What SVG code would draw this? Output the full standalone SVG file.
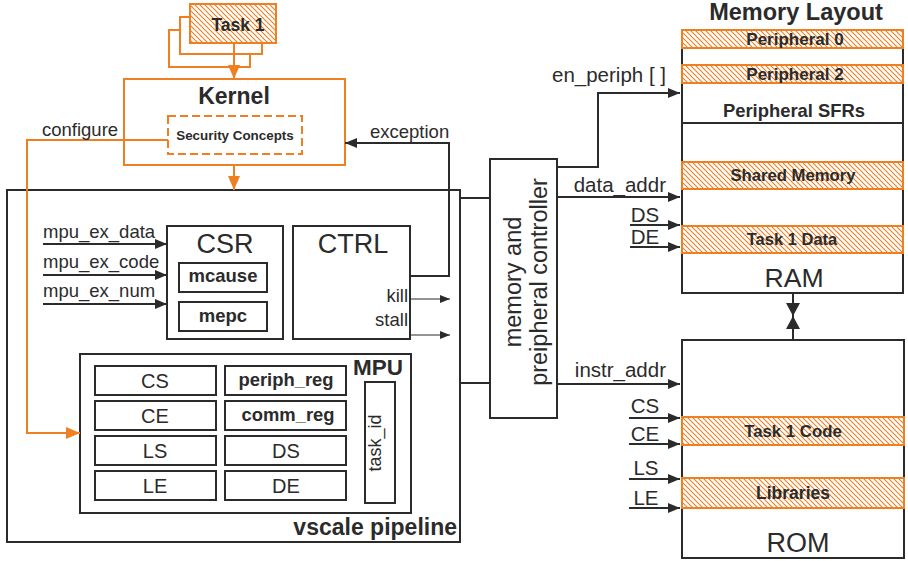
<svg xmlns="http://www.w3.org/2000/svg" width="908" height="561" viewBox="0 0 908 561">
<defs>
<pattern id="hatch" width="5" height="5" patternUnits="userSpaceOnUse">
<rect width="5" height="5" fill="#fff"/>
<path d="M-1,-1 L6,6 M-1,4 L1,6 M4,-1 L6,1" stroke="#EE7F22" stroke-width="1.1"/>
</pattern>
<marker id="ah" viewBox="0 0 12 10" refX="12" refY="5" markerWidth="12" markerHeight="10" markerUnits="userSpaceOnUse" orient="auto">
<path d="M0,0 L12,5 L0,10 z" fill="#2b2b2b"/>
</marker>
<marker id="ahs" viewBox="0 0 10 8" refX="10" refY="4" markerWidth="10" markerHeight="8" markerUnits="userSpaceOnUse" orient="auto">
<path d="M0,0 L10,4 L0,8 z" fill="#2b2b2b"/>
</marker>
<marker id="aho" viewBox="0 0 14 12" refX="14" refY="6" markerWidth="14" markerHeight="12" markerUnits="userSpaceOnUse" orient="auto">
<path d="M0,0 L14,6 L0,12 z" fill="#EE7F22"/>
</marker>
</defs>
<style>
text{font-family:"Liberation Sans",Arial,sans-serif;fill:#2b2b2b}
.b{font-weight:bold}
.box{fill:#fff;stroke:#2b2b2b;stroke-width:2}
.obox{fill:#fff;stroke:#EE7F22;stroke-width:2}
.band{fill:url(#hatch);stroke:#EE7F22;stroke-width:2}
.w{fill:none;stroke:#2b2b2b;stroke-width:2}
.ow{fill:none;stroke:#EE7F22;stroke-width:2}
.lbl{font-size:18.5px}
.sig{font-size:20.5px}
.c{text-anchor:middle}
.e{text-anchor:end}
</style>

<g id="task1">
<rect class="obox" x="169" y="30" width="81" height="37"/>
<rect class="obox" x="180" y="17" width="82" height="37"/>
<rect class="band" x="190" y="4" width="86" height="39"/>
<text class="b c" x="238" y="31" font-size="17.5">Task 1</text>
</g>

<g id="kernel">
<rect class="obox" x="124" y="79" width="221" height="86"/>
<text class="b c" x="234" y="104" font-size="23">Kernel</text>
</g>

<g id="security">
<rect x="168" y="116" width="134" height="38" fill="#fff" stroke="#EE7F22" stroke-width="2" stroke-dasharray="8,4"/>
<text class="b c" x="235" y="140" font-size="13.4">Security Concepts</text>
</g>

<g id="pipeline">
<rect class="box" x="7" y="190" width="453" height="352" fill="none"/>
<text class="b e" x="457" y="535" font-size="23">vscale pipeline</text>
</g>

<g id="csr">
<rect class="box" x="167" y="226" width="116" height="113"/>
<text class="c" x="225" y="253" font-size="27">CSR</text>
<rect class="box" x="179" y="263" width="88" height="29"/>
<text class="b c" x="223" y="282" font-size="18.5">mcause</text>
<rect class="box" x="179" y="302" width="88" height="29"/>
<text class="b c" x="223" y="322" font-size="18.5">mepc</text>
</g>

<g id="ctrl">
<rect class="box" x="293" y="226" width="117" height="113"/>
<text class="c" x="353" y="253" font-size="27">CTRL</text>
<text class="lbl e" x="408" y="302">kill</text>
<text class="lbl e" x="408" y="326">stall</text>
</g>

<g id="mpu">
<rect class="box" x="80" y="354" width="331" height="159"/>
<text class="b e" x="403" y="375" font-size="22.5">MPU</text>
<rect class="box" x="95" y="366" width="121" height="29"/>
<text class="c" x="155" y="388" font-size="20">CS</text>
<rect class="box" x="95" y="401" width="121" height="29"/>
<text class="c" x="155" y="423" font-size="20">CE</text>
<rect class="box" x="95" y="436" width="121" height="29"/>
<text class="c" x="155" y="458" font-size="20">LS</text>
<rect class="box" x="95" y="471" width="121" height="29"/>
<text class="c" x="155" y="493" font-size="20">LE</text>
<rect class="box" x="225" y="366" width="121" height="29"/>
<text class="b c" x="286" y="386" font-size="18.4">periph_reg</text>
<rect class="box" x="225" y="401" width="121" height="29"/>
<text class="b c" x="288" y="421" font-size="18.4">comm_reg</text>
<rect class="box" x="225" y="436" width="121" height="29"/>
<text class="c" x="286" y="458" font-size="20">DS</text>
<rect class="box" x="225" y="471" width="121" height="29"/>
<text class="c" x="286" y="493" font-size="20">DE</text>
<rect class="box" x="365" y="382" width="30" height="121"/>
<text class="c" transform="translate(381,443) rotate(-90)" font-size="18">task_id</text>
</g>

<g id="controller">
<rect class="box" x="490" y="159" width="67" height="259"/>
<text class="c" transform="translate(521,282) rotate(-90)" font-size="23.5">memory and</text>
<text class="c" transform="translate(547,282) rotate(-90)" font-size="23.5">preipheral controller</text>
</g>

<g id="ram">
<text class="b c" x="796" y="20" font-size="23.5">Memory Layout</text>
<rect class="box" x="682" y="30" width="221" height="263"/>
<line class="w" x1="682" y1="123" x2="903" y2="123"/>
<rect class="band" x="682" y="30" width="221" height="18"/>
<text class="b c" x="795" y="45" font-size="17">Peripheral 0</text>
<rect class="band" x="682" y="65" width="221" height="18"/>
<text class="b c" x="795" y="80" font-size="17">Peripheral 2</text>
<text class="b c" x="794" y="117" font-size="18.4">Peripheral SFRs</text>
<rect class="band" x="682" y="162" width="221" height="27"/>
<text class="b c" x="793" y="181" font-size="16.7">Shared Memory</text>
<rect class="band" x="682" y="226" width="221" height="27"/>
<text class="b c" x="792" y="245" font-size="16.5">Task 1 Data</text>
<text class="c" x="794" y="287" font-size="26.6">RAM</text>
</g>

<g id="rom">
<rect class="box" x="682" y="340" width="222" height="218"/>
<rect class="band" x="682" y="417" width="222" height="28"/>
<text class="b c" x="793" y="437" font-size="16.8">Task 1 Code</text>
<rect class="band" x="682" y="478" width="222" height="30"/>
<text class="b c" x="793" y="499" font-size="17.5">Libraries</text>
<text class="c" x="798" y="552" font-size="27">ROM</text>
</g>

<g id="connectors">
<line class="ow" x1="234" y1="43" x2="234" y2="79" marker-end="url(#aho)"/>
<line class="ow" x1="234" y1="165" x2="234" y2="190" marker-end="url(#aho)"/>
<path class="ow" d="M168,140 H27 V433 H80" marker-end="url(#aho)"/>
<text class="lbl" x="42" y="136">configure</text>
<path class="w" d="M410,276 H449 V143 H345" marker-end="url(#ah)"/>
<text class="lbl" x="370" y="138">exception</text>
<line class="w" x1="43" y1="244" x2="167" y2="244" marker-end="url(#ah)"/>
<text class="lbl" x="43" y="238">mpu_ex_data</text>
<line class="w" x1="43" y1="275" x2="167" y2="275" marker-end="url(#ah)"/>
<text class="lbl" x="43" y="268">mpu_ex_code</text>
<line class="w" x1="43" y1="304" x2="167" y2="304" marker-end="url(#ah)"/>
<text class="lbl" x="43" y="297">mpu_ex_num</text>
<line x1="410" y1="299" x2="450" y2="299" stroke="#2b2b2b" stroke-width="1.2" marker-end="url(#ahs)"/>
<line x1="410" y1="335" x2="450" y2="335" stroke="#2b2b2b" stroke-width="1.2" marker-end="url(#ahs)"/>
<line class="w" x1="460" y1="198" x2="490" y2="198"/>
<line class="w" x1="460" y1="383" x2="490" y2="383"/>
<path class="w" d="M557,167 H598 V93 H680" marker-end="url(#ah)"/>
<text class="sig e" x="666" y="82">en_periph [ ]</text>
<line class="w" x1="557" y1="197" x2="680" y2="197" marker-end="url(#ah)"/>
<text class="sig e" x="666" y="192">data_addr</text>
<line class="w" x1="630" y1="225" x2="680" y2="225" marker-end="url(#ah)"/>
<text class="sig c" x="645" y="222">DS</text>
<line class="w" x1="630" y1="247" x2="680" y2="247" marker-end="url(#ah)"/>
<text class="sig c" x="645" y="244">DE</text>
<line class="w" x1="557" y1="384" x2="680" y2="384" marker-end="url(#ah)"/>
<text class="sig e" x="666" y="377">instr_addr</text>
<line class="w" x1="629" y1="418" x2="680" y2="418" marker-end="url(#ah)"/>
<text class="sig c" x="645" y="413">CS</text>
<line class="w" x1="629" y1="444" x2="680" y2="444" marker-end="url(#ah)"/>
<text class="sig c" x="645" y="441">CE</text>
<line class="w" x1="629" y1="479" x2="680" y2="479" marker-end="url(#ah)"/>
<text class="sig c" x="646" y="475">LS</text>
<line class="w" x1="629" y1="508" x2="680" y2="508" marker-end="url(#ah)"/>
<text class="sig c" x="646" y="505">LE</text>
<line class="w" x1="793" y1="293" x2="793" y2="340"/>
<path d="M786,303 H800 L793,316 z M786,329 H800 L793,316 z" fill="#2b2b2b"/>
</g>
</svg>
